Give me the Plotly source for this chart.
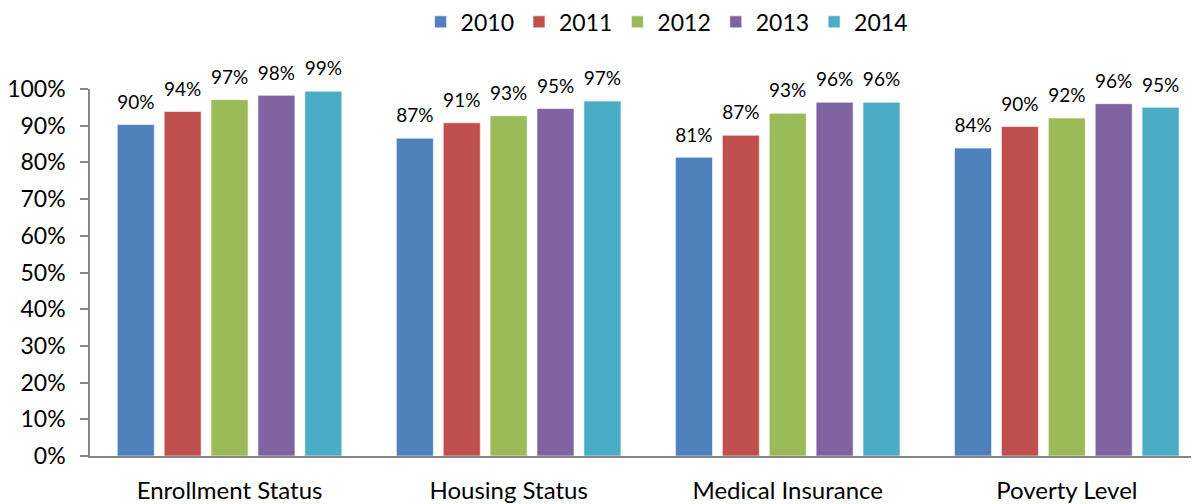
import plotly.graph_objects as go

categories = ["Enrollment Status", "Housing Status", "Medical Insurance", "Poverty Level"]
years = ["2010", "2011", "2012", "2013", "2014"]
v2010 = [0.903, 0.866, 0.814, 0.839]
v2011 = [0.939, 0.908, 0.874, 0.898]
v2012 = [0.971, 0.927, 0.934, 0.921]
v2013 = [0.983, 0.947, 0.964, 0.960]
v2014 = [0.994, 0.967, 0.964, 0.950]
series = [v2010, v2011, v2012, v2013, v2014]
colors = ["#4F81BD", "#C0504D", "#9BBB59", "#8064A2", "#4BACC6"]

FONT = "Lato"
GAP = 0.16

fig = go.Figure()
for name, vals, col in zip(years, series, colors):
    fig.add_trace(go.Bar(
        x=categories, y=vals, name=name,
        marker=dict(color=col, line=dict(width=1, color="rgba(255,255,255,0.6)")),
        cliponaxis=False,
    ))
for name, vals in zip(years, series):
    fig.add_trace(go.Scatter(
        x=categories, y=vals, name=name + " labels", mode="markers+text",
        marker=dict(size=16, color="rgba(0,0,0,0)"),
        text=[f"{round(v*100):.0f}%" for v in vals],
        textposition="top center",
        textfont=dict(family=FONT, size=19, color="#000000"),
        cliponaxis=False, showlegend=False, hoverinfo="skip",
    ))

fig.update_layout(
    width=1191, height=496,
    margin=dict(l=82, r=1, t=81, b=48, autoexpand=False),
    paper_bgcolor="white", plot_bgcolor="white",
    barmode="group", bargap=GAP, bargroupgap=0.21,
    scattermode="group", scattergap=GAP,
    font=dict(family=FONT, size=22, color="#000000"),
    legend=dict(orientation="h", x=0.553, xanchor="center", xref="container",
                y=0.972, yanchor="middle", yref="container",
                font=dict(family=FONT, size=23),
                itemwidth=30, traceorder="normal"),
    showlegend=True,
)
fig.update_xaxes(
    range=[-0.5, 3.47], showline=True, linecolor="#868686", linewidth=1.5,
    ticks="", showgrid=False, ticklabelstandoff=12,
    tickfont=dict(family=FONT, size=24, color="#000000"),
)
fig.update_yaxes(
    range=[0, 1], tickformat=".0%", dtick=0.1, showline=True,
    linecolor="#868686", linewidth=1.5, ticks="outside", ticklen=8,
    tickcolor="#868686", tickwidth=1.5, showgrid=False, zeroline=False,
    ticklabelstandoff=10,
    tickfont=dict(family=FONT, size=23, color="#000000"),
)

fig.write_html("out.html")
